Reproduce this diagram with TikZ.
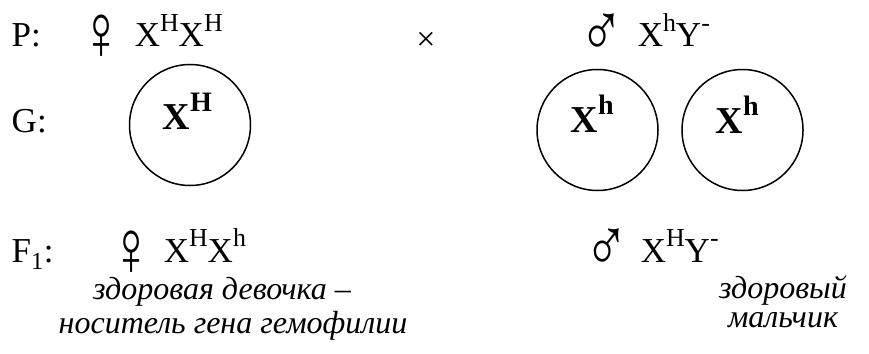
\documentclass[tikz,border=0pt]{standalone}
\usepackage{fontspec}
\setmainfont{Liberation Serif}
\newcommand\gup[1]{\raisebox{0.45em}{\scalebox{0.74}{#1}}}
\newcommand\fem{\scalebox{1.7}[2.4]{♀}}
\newcommand\mal{\scalebox{1.8}[2.3]{♂}}
\begin{document}
\begin{tikzpicture}[x=1pt,y=-1pt,line width=1.5pt,
  big/.style={inner sep=0pt,anchor=base west,font=\fontsize{35}{42}\selectfont},
  sex/.style={inner sep=0pt,font=\fontsize{33}{40}\selectfont},
  note/.style={inner sep=0pt,anchor=base,align=center,
    font=\fontsize{32}{29}\selectfont\itshape},
  gam/.style={inner sep=0pt,anchor=base west,font=\fontsize{38}{44}\selectfont\bfseries},
  cell/.style={draw,circle,minimum size=121pt,inner sep=0pt}]
  \useasboundingbox (0,0) rectangle (869,353);

  % родители
  \node[big] (P) at (11,47) {P:};
  \node[sex] (Pf) at (102,37) {\fem};
  \node[big] (Pfg) at (134,47) {X\gup{H}X\gup{H}};
  \node[inner sep=0pt,font=\fontsize{34}{38}\selectfont] (cross) at (426,41) {×};
  \node[sex] (Pm) at (602,35) {\mal};
  \node[big] (Pmg) at (637,47) {X\gup{h}Y\gup{-}};

  % гаметы
  \node[big] (G) at (11,132) {G:};
  \node[cell] (g1) at (190,125) {};
  \node[cell] (g2) at (597.5,130) {};
  \node[cell] (g3) at (742.5,130) {};
  \node[gam] at (162,129) {X\gup{H}};
  \node[gam] at (570,132) {X\gup{h}};
  \node[gam] at (715,133) {X\gup{h}};

  % потомство
  \node[big] (F) at (11,262) {F\textsubscript{1}:};
  \node[sex] (Ff) at (132,253) {\fem};
  \node[big] (Ffg) at (163,262) {X\gup{H}X\gup{h}};
  \node[sex] (Fm) at (607,250) {\mal};
  \node[big] (Fmg) at (640,262) {X\gup{H}Y\gup{-}};

  % подписи
  \node[note] (n1) at (233,333)
    {здоровая девочка –\hspace*{22pt}\\[3pt]носитель гена гемофилии};
  \node[note] (n2) at (783,327) {здоровый\\мальчик};
\end{tikzpicture}
\end{document}
